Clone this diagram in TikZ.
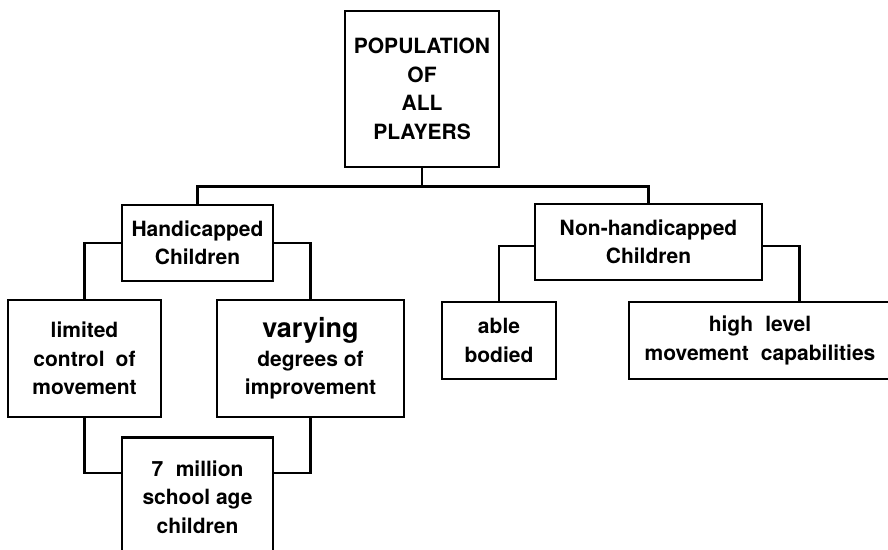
\documentclass[tikz,border=0pt]{standalone}
\usepackage{fontspec}
\setmainfont{TeX Gyre Heros}
\begin{document}
\begin{tikzpicture}[x=1pt,y=-1pt,
  box/.style={draw, line width=2.8pt, align=center, inner sep=0pt,
    font=\bfseries\fontsize{21}{28.5}\selectfont},
  txt/.style={align=center, inner sep=0pt,
    font=\bfseries\fontsize{21}{28.5}\selectfont},
  wire/.style={line width=2.8pt}]
\useasboundingbox (0,0) rectangle (888,549);
\clip (0,0) rectangle (888,549);
% nodes
\node[box, minimum width=154, minimum height=156] (pop) at (422,89)
  {POPULATION\\OF\\ALL\\PLAYERS};
\node[box, minimum width=151, minimum height=76] (hc) at (197.5,243)
  {Handicapped\\Children};
\node[box, minimum width=227, minimum height=76] (nh) at (648.5,242)
  {Non-handicapped\\Children};
\node[box, minimum width=153, minimum height=117] (lim) at (84.5,358.5)
  {limited\\control\hspace{0.25em} of\\movement};
\node[box, minimum width=187, minimum height=117] (var) at (310.5,358.5)
  {{\fontsize{27}{28.5}\selectfont varying}\\degrees of\\improvement};
\node[box, minimum width=114, minimum height=77] (able) at (499,340.5)
  {able\\bodied};
\node[box, minimum width=262, minimum height=77] (hl) at (760,340.5)
  {high\hspace{0.3em} level\\movement\hspace{0.3em} capabilities};
\node[box, minimum width=151, minimum height=160, anchor=north] (mil) at (197.5,436) {};
\node[txt] (miltxt) at (197.5,497) {7\hspace{0.6em}million\\school age\\children};
% connectors
\draw[wire] (pop.south) -- ++(0,18) coordinate (j);
\draw[wire] (hc.north) -- (hc.north |- j) -- (nh.north |- j) -- (nh.north);
\draw[wire] (hc.west) -| (lim.north);
\draw[wire] (hc.east) -| (var.north);
\draw[wire] (lim.south) |- ([yshift=-37pt]mil.north west);
\draw[wire] (var.south) |- ([yshift=-37pt]mil.north east);
\draw[wire] ([yshift=-4pt]nh.west) -| (able.north);
\draw[wire] ([yshift=-4pt]nh.east) -- ++(36,0) coordinate (nhr) -- (nhr |- hl.north);
\end{tikzpicture}
\end{document}
